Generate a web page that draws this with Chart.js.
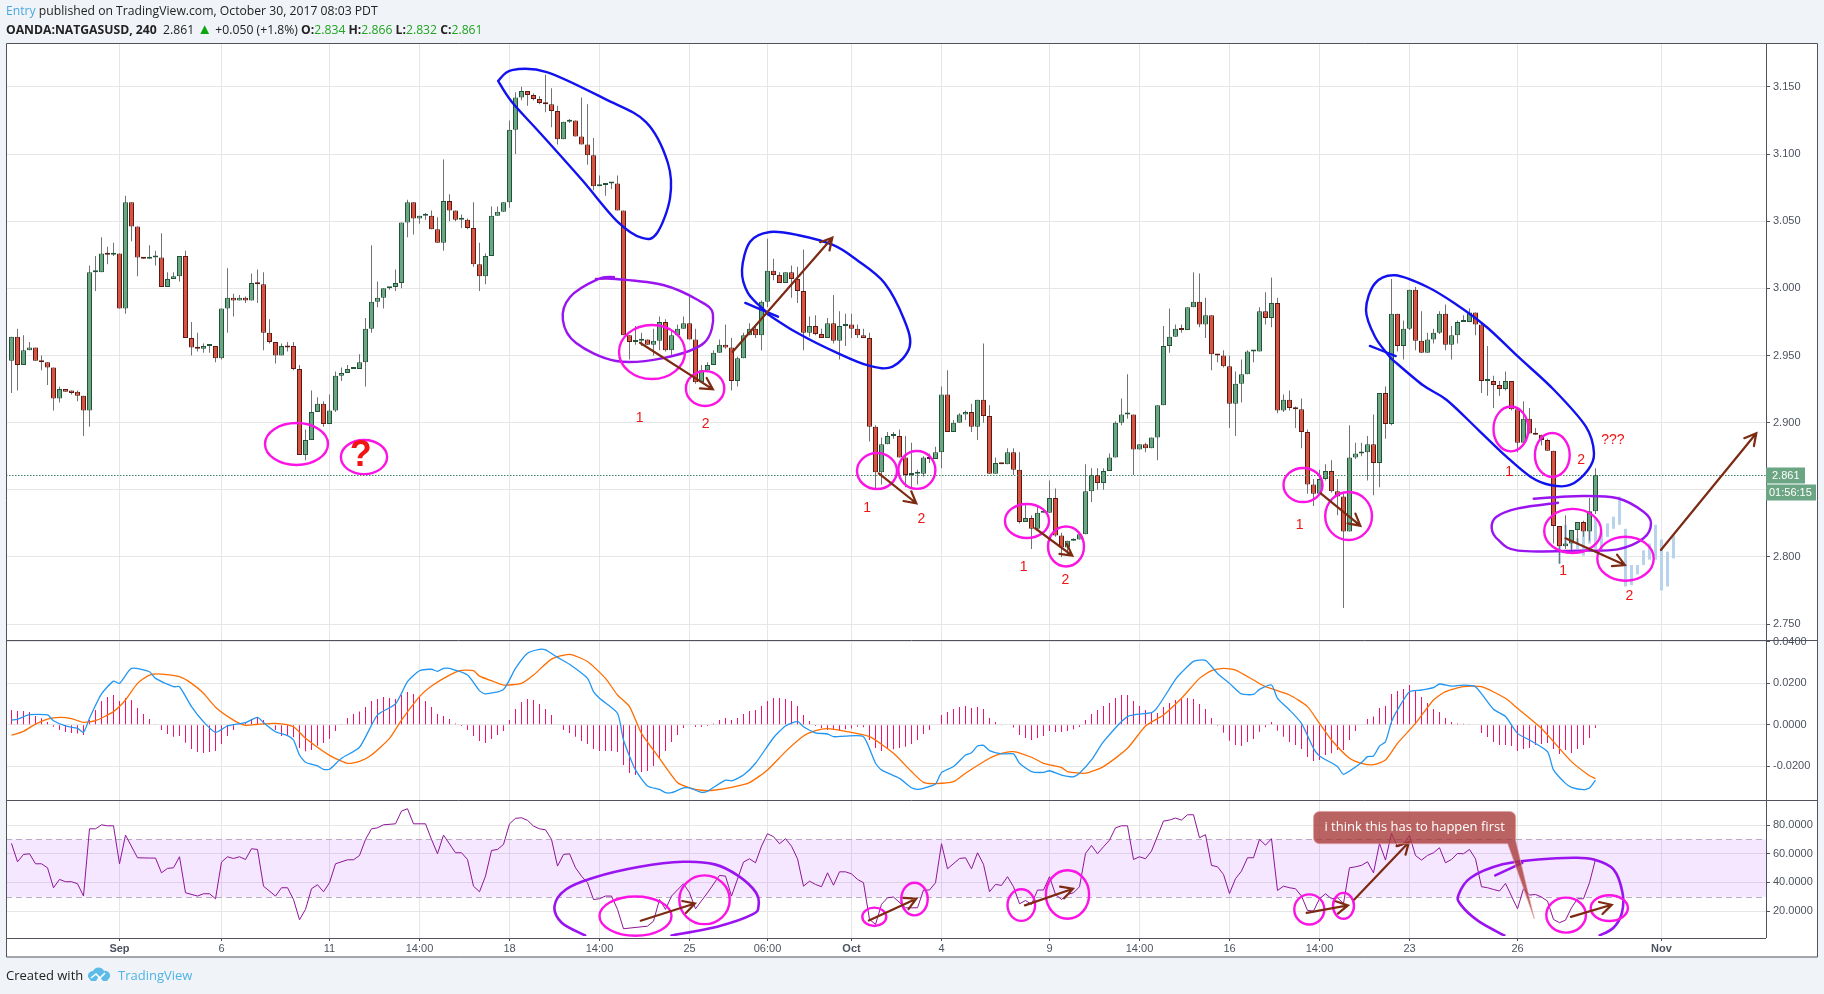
<!DOCTYPE html>
<html>
<head>
<meta charset="utf-8">
<title>OANDA:NATGASUSD, 240</title>
<script src="https://cdn.jsdelivr.net/npm/chart.js@4"></script>
<style>
html, body { margin: 0; padding: 0; background: #f0f3f7; overflow: hidden; }
#wrap { position: relative; width: 1824px; height: 994px; font-family: "Open Sans", sans-serif; color: #222; }
#myChart { position: absolute; left: 0; top: 0; }
.line { position: absolute; white-space: nowrap; }
#l1 { left: 6px; top: 3px; font-size: 12.2px; line-height: 16px; }
#l2 { left: 6px; top: 22px; font-size: 12.2px; line-height: 16px; }
#l1 .who { color: #4aa8de; }
#l2 b { color: #222; }
#l2 .g { color: #1fa51f; }
#l2 .up { color: #0fa50f; font-size: 15px; line-height: 0; }
#foot { left: 6px; top: 966px; font-size: 13px; line-height: 18px; }
#brand { left: 118px; top: 966px; font-size: 13px; line-height: 18px; color: #4fb4e6; }
#logo { position: absolute; left: 87px; top: 966px; }
</style>
</head>
<body>
<div id="wrap">
  <canvas id="myChart" width="1824" height="994"></canvas>
  <div class="line" id="l1"><span class="who">Entry</span> published on TradingView.com, October 30, 2017 08:03 PDT</div>
  <div class="line" id="l2"><b>OANDA:NATGASUSD, 240</b>&nbsp; 2.861 <span class="up">▲</span> +0.050 (+1.8%) <b>O:</b><span class="g">2.834</span> <b>H:</b><span class="g">2.866</span> <b>L:</b><span class="g">2.832</span> <b>C:</b><span class="g">2.861</span></div>
  <div class="line" id="foot">Created with</div>
  <svg id="logo" width="24" height="16" viewBox="0 0 24 16"><path d="M1 11 a5 5 0 0 1 5-6 a6 6 0 0 1 11 0 a5 5 0 0 1 6 6 l-3 4 h-4 l-4-5 -3 5 H4z" fill="#5cbbe8"/><path d="M4 12 l5-4 4 4 5-5" fill="none" stroke="#fff" stroke-width="1.6"/></svg>
  <div class="line" id="brand">TradingView</div>
</div>
<script>
// candles, 4h bars
const opens = [
2.946,2.964,2.943,2.954,2.956,2.946,2.945,2.941,2.918,2.925,2.924,2.923,2.920,2.909,3.012,3.012,3.026,3.025,3.026,2.985,
3.064,3.046,3.023,3.022,3.023,3.023,3.001,3.007,3.009,3.024,2.963,2.956,2.955,2.957,2.957,2.948,2.985,2.993,2.991,2.993,
2.991,3.004,3.003,2.967,2.960,2.950,2.957,2.957,2.940,2.876,2.887,2.908,2.914,2.899,2.909,2.935,2.937,2.940,2.940,2.945,
2.970,2.990,2.993,3.000,3.001,3.004,3.049,3.064,3.052,3.054,3.054,3.044,3.034,3.065,3.058,3.051,3.051,3.045,3.018,3.009,
3.024,3.054,3.057,3.064,3.118,3.142,3.147,3.144,3.141,3.138,3.137,3.132,3.111,3.124,3.125,3.113,3.107,3.099,3.076,3.077,
3.078,3.078,3.058,2.965,2.960,2.961,2.962,2.958,2.961,2.975,2.954,2.965,2.970,2.974,2.962,2.930,2.939,2.943,2.952,2.958,
2.956,2.931,2.948,2.965,2.970,2.965,2.990,3.013,3.010,3.004,3.012,3.007,2.998,2.967,2.972,2.966,2.963,2.974,2.961,2.972,
2.973,2.970,2.965,2.963,2.897,2.863,2.884,2.890,2.890,2.874,2.861,2.862,2.862,2.874,2.873,2.878,2.921,2.893,2.900,2.906,
2.908,2.897,2.917,2.905,2.862,2.870,2.869,2.878,2.865,2.826,2.829,2.821,2.833,2.833,2.844,2.816,2.807,2.812,2.813,2.817,
2.849,2.861,2.855,2.864,2.874,2.900,2.906,2.906,2.880,2.884,2.881,2.889,2.913,2.957,2.964,2.970,2.969,2.986,2.990,2.973,
2.980,2.951,2.950,2.942,2.914,2.929,2.936,2.953,2.953,2.983,2.978,2.989,2.909,2.917,2.911,2.910,2.893,2.854,2.847,2.858,
2.864,2.849,2.845,2.819,2.874,2.877,2.878,2.884,2.870,2.922,2.899,2.981,2.957,2.970,2.999,2.961,2.952,2.962,2.967,2.981,
2.958,2.965,2.975,2.975,2.982,2.973,2.931,2.931,2.928,2.925,2.931,2.910,2.885,2.903,2.892,2.891,2.887,2.879,2.823,2.808,
2.810,2.820,2.826,2.819,2.834];
const highs = [
2.964,2.970,2.965,2.960,2.956,2.950,2.945,2.941,2.927,2.925,2.924,2.924,2.920,3.017,3.024,3.038,3.031,3.034,3.026,3.069,
3.064,3.046,3.023,3.032,3.028,3.041,3.012,3.012,3.024,3.028,2.975,2.967,2.959,2.957,2.957,2.985,3.015,2.996,2.995,2.994,
3.011,3.014,3.012,2.977,2.960,2.959,2.960,2.960,2.943,2.895,2.924,2.919,2.916,2.921,2.938,2.941,2.943,2.940,2.951,2.978,
3.032,3.005,3.000,3.001,3.014,3.049,3.066,3.064,3.054,3.056,3.058,3.053,3.096,3.070,3.058,3.055,3.052,3.064,3.034,3.026,
3.061,3.061,3.064,3.125,3.146,3.150,3.147,3.145,3.143,3.159,3.149,3.136,3.124,3.126,3.125,3.142,3.137,3.112,3.084,3.078,
3.079,3.084,3.058,2.965,2.972,2.967,2.962,2.970,2.979,2.977,2.969,2.973,2.979,2.994,2.970,2.943,2.945,2.954,2.962,2.973,
2.963,2.949,2.967,2.974,2.973,2.991,3.037,3.022,3.012,3.012,3.017,3.016,3.029,2.979,2.980,2.970,2.978,2.995,2.983,2.981,
2.981,2.973,2.970,2.967,2.898,2.889,2.893,2.893,2.895,2.890,2.885,2.865,2.875,2.877,2.882,2.927,2.939,2.902,2.907,2.909,
2.914,2.917,2.959,2.913,2.874,2.870,2.881,2.881,2.878,2.839,2.831,2.838,2.834,2.857,2.851,2.818,2.812,2.814,2.818,2.869,
2.866,2.866,2.866,2.877,2.901,2.918,2.936,2.906,2.884,2.885,2.889,2.913,2.972,2.985,2.973,2.973,2.986,3.012,3.011,2.993,
2.980,2.951,2.954,2.950,2.938,2.947,2.954,2.954,2.986,2.997,3.008,2.993,2.921,2.924,2.912,2.918,2.895,2.858,2.865,2.869,
2.872,2.858,2.848,2.898,2.885,2.885,2.890,2.906,2.922,2.927,3.007,2.981,2.976,2.999,3.001,2.983,2.967,2.970,2.983,2.988,
2.972,2.976,2.980,2.985,2.982,2.975,2.957,2.935,2.931,2.938,2.931,2.911,2.916,2.911,2.896,2.891,2.888,2.879,2.823,2.831,
2.820,2.826,2.827,2.844,2.866];
const lows = [
2.922,2.924,2.943,2.954,2.946,2.939,2.928,2.909,2.915,2.923,2.921,2.916,2.890,2.897,2.998,3.012,3.018,3.024,2.985,2.981,
3.035,3.009,3.022,3.022,3.017,3.001,3.001,3.007,3.005,2.963,2.950,2.953,2.952,2.952,2.945,2.947,2.967,2.979,2.991,2.989,
2.991,2.989,2.954,2.959,2.944,2.950,2.953,2.939,2.876,2.872,2.887,2.908,2.897,2.899,2.908,2.931,2.937,2.940,2.940,2.927,
2.967,2.986,2.985,2.999,2.998,3.000,3.038,3.040,3.048,3.051,3.044,3.034,3.028,3.050,3.050,3.045,3.044,3.016,2.998,3.003,
3.024,3.054,3.057,3.060,3.100,3.140,3.136,3.140,3.137,3.131,3.120,3.107,3.111,3.123,3.113,3.107,3.092,3.073,3.076,3.069,
3.074,3.058,2.965,2.947,2.958,2.957,2.958,2.950,2.954,2.953,2.950,2.965,2.970,2.962,2.929,2.930,2.939,2.943,2.952,2.955,
2.924,2.927,2.948,2.965,2.963,2.954,2.986,3.006,3.004,3.004,2.993,2.989,2.954,2.964,2.965,2.963,2.963,2.959,2.947,2.957,
2.963,2.963,2.963,2.886,2.851,2.854,2.884,2.888,2.874,2.852,2.851,2.854,2.860,2.870,2.873,2.866,2.893,2.893,2.900,2.902,
2.893,2.887,2.900,2.862,2.862,2.869,2.869,2.861,2.825,2.826,2.806,2.821,2.833,2.833,2.815,2.800,2.802,2.812,2.813,2.817,
2.841,2.850,2.850,2.864,2.874,2.898,2.903,2.861,2.880,2.878,2.881,2.872,2.913,2.952,2.964,2.967,2.969,2.986,2.971,2.963,
2.939,2.945,2.941,2.896,2.890,2.915,2.936,2.945,2.953,2.973,2.971,2.907,2.908,2.909,2.896,2.881,2.847,2.838,2.846,2.857,
2.848,2.831,2.762,2.819,2.873,2.875,2.857,2.846,2.852,2.888,2.898,2.953,2.947,2.969,2.954,2.952,2.952,2.959,2.966,2.954,
2.947,2.959,2.975,2.975,2.965,2.922,2.920,2.911,2.920,2.924,2.909,2.878,2.885,2.892,2.891,2.883,2.879,2.810,2.795,2.806,
2.803,2.810,2.815,2.812,2.832];
const closes = [
2.964,2.943,2.954,2.956,2.946,2.945,2.941,2.918,2.925,2.923,2.922,2.920,2.909,3.012,3.012,3.026,3.025,3.026,2.985,3.064,
3.046,3.023,3.022,3.023,3.023,3.001,3.007,3.009,3.024,2.963,2.956,2.955,2.957,2.957,2.948,2.985,2.993,2.991,2.993,2.991,
3.004,3.003,2.967,2.960,2.950,2.957,2.956,2.940,2.876,2.887,2.908,2.914,2.899,2.909,2.935,2.937,2.940,2.940,2.945,2.970,
2.990,2.993,3.000,3.001,3.004,3.049,3.064,3.052,3.054,3.054,3.044,3.034,3.065,3.058,3.051,3.051,3.045,3.018,3.009,3.024,
3.054,3.057,3.064,3.118,3.142,3.147,3.144,3.141,3.138,3.137,3.132,3.111,3.124,3.125,3.113,3.107,3.099,3.076,3.077,3.078,
3.078,3.058,2.965,2.960,2.961,2.962,2.958,2.961,2.975,2.954,2.965,2.970,2.974,2.962,2.930,2.939,2.943,2.952,2.958,2.956,
2.931,2.948,2.965,2.970,2.965,2.990,3.013,3.010,3.004,3.012,3.007,2.998,2.967,2.972,2.966,2.963,2.974,2.961,2.972,2.973,
2.970,2.965,2.963,2.897,2.863,2.884,2.890,2.890,2.874,2.861,2.862,2.862,2.874,2.873,2.878,2.921,2.893,2.900,2.906,2.908,
2.897,2.917,2.905,2.862,2.870,2.869,2.878,2.865,2.826,2.829,2.821,2.833,2.833,2.844,2.816,2.807,2.812,2.813,2.817,2.849,
2.861,2.855,2.864,2.874,2.900,2.906,2.906,2.880,2.884,2.881,2.889,2.913,2.957,2.964,2.970,2.969,2.986,2.990,2.973,2.980,
2.951,2.950,2.942,2.914,2.929,2.936,2.953,2.953,2.983,2.978,2.989,2.909,2.917,2.911,2.910,2.893,2.854,2.847,2.858,2.864,
2.849,2.845,2.819,2.874,2.877,2.878,2.884,2.870,2.922,2.899,2.981,2.957,2.970,2.999,2.961,2.952,2.962,2.967,2.981,2.958,
2.965,2.975,2.976,2.982,2.973,2.931,2.931,2.928,2.925,2.931,2.910,2.885,2.903,2.892,2.891,2.887,2.879,2.823,2.808,2.810,
2.820,2.826,2.819,2.834,2.861];

// pale projected bars (bar pattern tool)
const ghostBars = [258,259,260,261,262,263,264,265,266,267,268,269,270,271,272,273,274,275,276,277];
const ghostHighs = [2.809,2.824,2.820,2.814,2.819,2.830,2.829,2.818,2.825,2.830,2.845,2.821,2.794,2.794,2.805,2.810,2.824,2.813,2.804,2.816];
const ghostLows = [2.795,2.809,2.806,2.806,2.801,2.810,2.806,2.805,2.815,2.821,2.824,2.778,2.779,2.787,2.794,2.798,2.798,2.775,2.778,2.799];

// MACD histogram, one per bar
const macdHist = [
.0071,.0066,.0066,.0061,.0042,.0031,.0013,-.0010,-.0026,-.0035,-.0040,-.0043,-.0050,.0022,.0071,.0114,.0133,.0143,.0114,.0128,
.0119,.0080,.0051,.0027,.0003,-.0026,-.0045,-.0058,-.0055,-.0087,-.0117,-.0132,-.0137,-.0132,-.0127,-.0093,-.0055,-.0026,.0006,.0013,
.0029,.0032,.0022,.0003,-.0026,-.0055,-.0055,-.0061,-.0112,-.0128,-.0122,-.0101,-.0088,-.0069,-.0031,.0003,.0032,.0051,.0063,.0085,
.0114,.0124,.0133,.0128,.0124,.0143,.0157,.0148,.0133,.0114,.0085,.0051,.0042,.0027,.0006,-.0006,-.0026,-.0055,-.0079,-.0088,
-.0069,-.0050,-.0031,.0022,.0075,.0109,.0124,.0119,.0100,.0075,.0047,0,-.0026,-.0040,-.0058,-.0079,-.0093,-.0117,-.0127,-.0127,
-.0127,-.0132,-.0194,-.0233,-.0243,-.0228,-.0223,-.0199,-.0162,-.0127,-.0084,-.0050,-.0016,0,-.0011,-.0011,-.0006,.0006,.0022,.0032,
.0022,.0032,.0051,.0066,.0071,.0090,.0114,.0128,.0128,.0124,.0114,.0090,.0047,.0018,-.0006,-.0016,-.0026,-.0026,-.0031,-.0022,
-.0019,-.0010,-.0013,-.0074,-.0112,-.0127,-.0112,-.0119,-.0112,-.0106,-.0093,-.0074,-.0045,-.0026,0,.0047,.0061,.0075,.0085,.0090,
.0080,.0085,.0075,.0032,.0013,-.0002,-.0003,-.0014,-.0050,-.0064,-.0074,-.0064,-.0055,-.0031,-.0035,-.0035,-.0031,-.0022,-.0011,.0022,
.0051,.0071,.0090,.0104,.0128,.0143,.0143,.0114,.0090,.0071,.0061,.0056,.0085,.0104,.0119,.0124,.0128,.0124,.0100,.0075,
.0032,-.0005,-.0039,-.0077,-.0098,-.0103,-.0084,-.0069,-.0034,-.0013,.0013,-.0029,-.0058,-.0084,-.0098,-.0117,-.0156,-.0175,-.0170,-.0146,
-.0138,-.0122,-.0122,-.0074,-.0031,0,.0027,.0039,.0080,.0090,.0148,.0162,.0172,.0191,.0167,.0133,.0104,.0075,.0061,.0032,
.0013,.0006,.0005,.0003,0,-.0040,-.0059,-.0084,-.0098,-.0098,-.0103,-.0127,-.0117,-.0112,-.0098,-.0093,-.0088,-.0117,-.0141,-.0122,
-.0137,-.0117,-.0098,-.0064,-.0016];

// MACD line, at the bars where it bends
const macdBars = [0,1,3,6,7,9,11,12,13,15,17,18,20,23,24,27,28,30,32,34,36,39,41,42,44,46,47,48,49,51,52,53,55,58,61,64,66,68,70,71,72,73,76,78,79,82,84,86,88,89,91,93,96,97,98,101,102,104,106,108,109,110,112,113,115,116,119,120,122,124,127,129,131,132,134,136,137,139,142,144,145,148,150,151,152,154,155,157,159,160,161,162,163,165,167,168,170,172,173,175,177,178,180,182,186,190,191,194,195,197,199,201,203,205,207,208,210,211,213,215,217,218,221,222,225,226,227,228,229,230,231,233,235,237,238,240,242,244,247,249,251,253,256,257,259,260,262,263,264];
const macdVals = [.0022,.0026,.0048,.0047,.0019,-.0006,-.0018,-.0037,.0031,.0148,.0210,.0199,.0271,.0255,.0223,.0183,.0183,.0087,.0014,-.0037,-.0006,.0010,.0035,.0010,-.0034,-.0053,-.0074,-.0146,-.0181,-.0199,-.0215,-.0215,-.0162,-.0109,.0047,.0100,.0207,.0260,.0267,.0257,.0271,.0271,.0239,.0164,.0148,.0170,.0271,.0344,.0363,.0360,.0324,.0291,.0223,.0159,.0127,.0055,-.0074,-.0218,-.0295,-.0312,-.0328,-.0328,-.0305,-.0305,-.0326,-.0321,-.0267,-.0271,-.0243,-.0186,-.0063,-.0006,.0016,-.0010,-.0039,-.0045,-.0058,-.0055,-.0058,-.0186,-.0218,-.0259,-.0304,-.0312,-.0307,-.0286,-.0231,-.0202,-.0146,-.0135,-.0103,-.0100,-.0125,-.0141,-.0141,-.0186,-.0226,-.0230,-.0222,-.0243,-.0251,-.0234,-.0170,-.0082,.0039,.0058,.0084,.0218,.0251,.0305,.0310,.0247,.0199,.0148,.0146,.0170,.0191,.0127,.0071,.0006,-.0114,-.0151,-.0202,-.0239,-.0183,-.0154,-.0151,-.0103,-.0082,.0014,.0071,.0159,.0167,.0178,.0196,.0186,.0191,.0183,.0074,.0039,-.0042,-.0074,-.0130,-.0218,-.0283,-.0302,-.0313,-.0305,-.0267];

// signal line
const signalBars = [0,2,4,6,8,10,12,14,17,19,21,23,25,28,30,32,34,37,39,41,44,47,49,53,56,58,60,63,65,68,70,73,75,77,78,80,82,85,87,90,93,96,99,101,103,105,108,111,113,115,117,120,123,126,129,132,134,136,139,143,147,150,152,154,157,159,163,165,167,170,172,175,176,179,182,186,189,192,195,198,200,202,204,207,209,213,216,218,220,223,225,227,229,231,234,237,239,242,245,249,251,255,257,260,263,264];
const signalVals = [-.0051,-.0032,.0003,.0027,.0035,.0029,.0011,.0019,.0063,.0119,.0199,.0239,.0244,.0231,.0199,.0151,.0084,.0022,-.0003,.0002,.0006,-.0010,-.0066,-.0148,-.0186,-.0177,-.0146,-.0066,.0022,.0135,.0186,.0239,.0262,.0260,.0234,.0212,.0191,.0199,.0239,.0316,.0339,.0304,.0223,.0143,.0087,-.0042,-.0162,-.0279,-.0304,-.0316,-.0316,-.0302,-.0279,-.0218,-.0130,-.0055,-.0029,-.0019,-.0032,-.0058,-.0138,-.0226,-.0278,-.0284,-.0275,-.0234,-.0162,-.0138,-.0130,-.0157,-.0186,-.0207,-.0226,-.0234,-.0202,-.0114,-.0006,.0047,.0127,.0223,.0260,.0271,.0263,.0215,.0183,.0143,.0087,.0006,-.0074,-.0162,-.0186,-.0193,-.0170,-.0090,.0006,.0119,.0159,.0183,.0183,.0127,.0079,-.0018,-.0082,-.0178,-.0246,-.0260];

// RSI
const rsiBars = [0,1,2,3,4,5,6,7,8,9,10,11,12,13,14,15,16,17,18,19,21,23,24,25,26,27,28,29,31,32,33,34,35,36,37,38,39,40,41,42,44,45,46,47,48,49,50,51,52,53,54,56,57,58,59,60,61,62,64,65,66,67,69,70,71,72,74,75,76,77,78,79,80,81,82,83,84,85,86,87,88,89,90,91,92,93,94,95,96,97,98,99,100,101,102,106,107,108,109,110,112,113,114,116,118,119,120,122,123,124,125,126,127,128,129,130,131,132,133,134,135,136,137,138,139,140,141,142,143,144,145,146,147,149,151,152,153,154,155,156,158,159,160,161,162,163,164,165,166,167,168,169,170,171,172,173,174,175,176,177,178,179,180,181,182,183,184,185,186,187,188,189,190,192,193,194,195,196,197,198,199,200,201,202,203,204,205,206,207,208,209,210,211,212,213,214,215,216,217,218,219,220,221,222,223,224,225,226,227,228,229,230,231,232,233,234,235,236,237,238,239,240,241,242,243,244,245,246,247,248,249,250,251,252,253,254,255,256,257,258,259,260,261,262,263,264];
const rsiVals = [67.2,54.4,59.5,60,53,53,50.2,36.3,42.1,40.5,40.5,39.1,30.5,77.4,77.4,80.2,79.5,79.5,53,73,57.2,57,57,46.7,49.8,50.2,57.9,32.8,30.5,32.1,32.1,28.6,54.2,57.9,56.7,57.9,56,63.5,63,37.4,30.5,36.3,36.3,28.1,14,21.2,35.6,38.4,33.5,39.8,53,55.8,55.8,58.8,70,77.4,78.1,80.2,80.9,89.8,91.4,80.9,80.9,70,60,73,60.7,60.7,56,37.4,33.5,44.4,62.3,63,66.5,80.9,84.7,85.1,83.3,79.3,77.4,76.7,70,51.4,59.5,60,50.2,44.4,39.8,28.1,28.6,30.5,30.5,21.2,7.7,9.5,13,28.1,21.2,30.5,39.1,32.8,21.6,32.8,44.9,44.4,30.5,54.2,56.5,53.7,65.3,74,71.9,67,70.5,65.3,56.5,37.4,40.9,38.6,37,46.7,38.1,47.4,47.4,46,42.1,39.8,14.2,10.7,24.7,29.3,29.8,22.3,22.3,34.7,34.7,39.8,67,49.5,56.7,57.2,49.5,60.7,52.6,33.5,38.6,37.9,44,37,25.1,27.4,24.7,34.7,34.7,44,31.6,28.1,31.6,32.8,37,60.2,65.8,60,64.9,69.5,78.1,79.5,79.5,56,57.9,56.5,61.9,82.8,83.5,84.9,83.5,87.2,87.2,71.2,73.3,51.9,50.9,45.6,32.3,42.6,47.9,57.2,57.2,70,66,70.5,34.4,37.4,36.3,35.6,30.5,20.5,20,28.6,32.1,28.6,29.3,25.3,50.2,50.9,51.9,54.4,46.7,67.2,55.6,74.2,64.9,66.5,72.8,58.8,55.6,58.8,60.7,64.2,53.7,56,60.2,60,63,56.5,37,36.3,35.1,34,39.3,30.5,21.6,35.6,31.2,31.6,29.8,27,14.2,11.9,13.7,22.3,28.6,28.6,39.8,56];
const rsiBand = [30, 70];

// axes
const tickBars = [18,35,53,68,83,98,113,126,140,155,173,188,203,218,233,251,275];
const tickLabels = ['Sep','6','11','14:00','18','14:00','25','06:00','Oct','4','9','14:00','16','14:00','23','26','Nov'];
const monthLabels = ['Sep','Oct','Nov'];
const priceTicks = [2.75,2.8,2.85,2.9,2.95,3,3.05,3.1,3.15];
const macdTicks = [-.02,0,.02,.04];
const rsiTicks = [20,40,60,80];
const lastPrice = 2.861;
const countdown = '01:56:15';

// hand drawn marks, as [bar, value] on the pane they were drawn on
const blueLoops = [
  [[81.1,3.1544],[83.4,3.1625],[89.2,3.161],[98.9,3.141],[105.75,3.1238],[109.4,3.0933],[109.75,3.0672],[107.6,3.0412],[105.1,3.0375],[100.9,3.0501],[95.1,3.0806],[88.25,3.1149],[83.4,3.1387],[81.1,3.1544]],
  [[125.75,2.9816],[131,2.9667],[137.6,2.9519],[142.9,2.9424],[146.85,2.9417],[149.7,2.9566],[148.8,2.9764],[145.5,3.004],[140.9,3.0211],[136.9,3.0323],[131,3.0397],[126.4,3.0419],[123.1,3.0347],[121.75,3.0136],[122.75,2.9965],[125.75,2.9826]],
  [[229.9,2.9479],[235.2,2.928],[239.2,2.9169],[244.5,2.8945],[249.15,2.8747],[253.15,2.8598],[256.45,2.8536],[259.75,2.8536],[262.75,2.8648],[263.75,2.8772],[262.4,2.897],[257.1,2.9243],[251.1,2.9491],[245.8,2.9714],[240.5,2.9889],[235.9,3.0012],[230.6,3.0097],[227.25,3.0037],[225.75,2.9839],[227.25,2.964],[229.9,2.9479]],
  [[122.3,2.9891],[127.75,2.9789]],
  [[226.4,2.9571],[230.7,2.9496]]
];
const purpleLoops = [
  [[100.4,3.0084],[97.75,3.0069],[93.1,2.9936],[91.9,2.9764],[94.1,2.9593],[100.75,2.9459],[108.6,2.9481],[115.4,2.9593],[116.9,2.9809],[114.4,2.9913],[108.6,3.0025],[100.75,3.0069],[97.4,3.0069]],
  [[253.7,2.8434],[261.75,2.8454],[267.7,2.8437],[272,2.8337],[273.25,2.8251],[272,2.8139],[267.7,2.8057],[261.1,2.8047],[251.1,2.8047],[247.8,2.8127],[246.7,2.8214],[247.5,2.83],[251.1,2.8362],[257.75,2.8404]]
];
const rsiPurpleLoops = [
  [[95.6,3],[91.7,11.9],[90.5,23.5],[92.4,35.1],[97,43.3],[104.7,50.9],[111.9,54.4],[117.2,52.6],[121.2,44.4],[124.1,32.8],[124.5,23.5],[123.5,17.7],[117.9,9.5],[110,3]],
  [[248.8,3],[244.5,13],[241.5,24.7],[241.2,31.6],[243.2,43.3],[248.5,52.6],[254.4,56],[260.4,57.2],[263.7,56],[267,49.1],[268.5,32.8],[268.4,18.8],[267,8.4],[264.7,3]],
  [[247.3,44.9],[251.8,53.7]]
];
// centre bar, centre value, half width in bars, half height in value
const pinkRings = [
  [47.5,2.8841,5.25,.0156],[58.75,2.8744,3.85,.0127],[106.75,2.9526,5.5,.0201],[115.6,2.9254,3.2,.013],
  [144.25,2.864,3.33,.0134],[150.9,2.8648,3.08,.0141],[169.25,2.8268,3.67,.0127],[175.75,2.8078,3,.0149],
  [215.25,2.8536,3.25,.0127],[222.85,2.8305,3.9,.0179],[249.9,2.8953,2.9,.0167],[256.8,2.8759,2.9,.0164],
  [260.2,2.8194,4.75,.0164],[269,2.7987,4.7,.0164]
];
const rsiPinkRings = [
  [104,16.5,6,13.7],[115.5,27.9,4.2,17],[143.8,16,2,6.4],[150.5,28.4,2.2,11.4],[168.3,24.2,2.3,11],[176,31.6,3.6,16.9],
  [216.3,21.2,2.5,10.5],[222,23.7,1.75,9],[259.1,17.2,3.3,12.2],[266.3,22.1,3.1,9]
];
const priceArrows = [
  [104.75,2.9595,116.9,2.9248],[120.2,2.9528,136.8,3.0377],[144.55,2.8623,150.8,2.84],[170.6,2.8214,176.8,2.801],
  [218.2,2.8474,224.8,2.8233],[259,2.8139,268.9,2.794],[274.9,2.8052,290.8,2.8921]
];
const rsiArrows = [
  [104.87,13.3,113.9,25.3],[142.9,13.5,150.8,28.6],[168.9,24,176.9,35.6],[215.85,18.8,222.75,24],
  [223.8,28.1,232.9,68.1],[259.9,16,266.7,24.4]
];
const noteTexts = ['1','2','1','2','1','2','1','1','2','???','1','2'];
const noteBars = [104.7,115.7,142.6,151.65,168.7,175.65,214.7,249.6,261.6,266.9,258.6,269.65];
const noteVals = [2.9035,2.899,2.8365,2.8283,2.7926,2.7829,2.8238,2.8631,2.8722,2.8871,2.7896,2.7709];
const questionMark = [58.2, 2.8752];
const calloutText = 'i think this has to happen first';
const calloutBox = [217, 89.5, 250.7, 67];   // left bar, top rsi, right bar, bottom rsi
const calloutTip = [253.8, 14.7];

const UP_FILL = '#6ba583', UP_LINE = '#225437';
const DOWN_FILL = '#d75442', DOWN_LINE = '#5b1a13';
const TEXT = '#4c525e';
const FRAME = '#50535e';
const GRID = '#e6e6e6';
const FONT = '"Liberation Sans", Arial, sans-serif';

const isUp = i => closes[i] >= opens[i];
const allBars = opens.map((_, i) => i);

function catmull(ctx, pts) {
    ctx.moveTo(pts[0][0], pts[0][1]);
    for (let i = 0; i < pts.length - 1; i++) {
        const p0 = pts[Math.max(i - 1, 0)], p1 = pts[i], p2 = pts[i + 1], p3 = pts[Math.min(i + 2, pts.length - 1)];
        ctx.bezierCurveTo(p1[0] + (p2[0] - p0[0]) / 6, p1[1] + (p2[1] - p0[1]) / 6,
                          p2[0] - (p3[0] - p1[0]) / 6, p2[1] - (p3[1] - p1[1]) / 6, p2[0], p2[1]);
    }
}

const inkPlugin = {
    id: 'ink',
    beforeDraw(chart) {
        const c = chart.ctx, a = chart.chartArea;
        c.save();
        c.fillStyle = '#fff';
        c.fillRect(a.left, a.top, chart.width - 7 - a.left, chart.height - 37 - a.top);
        c.restore();
    },
    beforeDatasetsDraw(chart) {
        const c = chart.ctx, a = chart.chartArea, r = chart.scales.yRsi;
        const y30 = r.getPixelForValue(rsiBand[0]), y70 = r.getPixelForValue(rsiBand[1]);
        c.save();
        c.fillStyle = 'rgba(153, 21, 255, 0.1)';
        c.fillRect(a.left, y70, a.right - a.left, y30 - y70);
        c.strokeStyle = '#b9acc2';
        c.setLineDash([6, 4]);
        c.beginPath();
        [y30, y70].forEach(y => { c.moveTo(a.left, Math.round(y) + .5); c.lineTo(a.right, Math.round(y) + .5); });
        c.stroke();
        c.restore();
    },
    afterDatasetsDraw(chart) {
        const c = chart.ctx, a = chart.chartArea, s = chart.scales;
        const x = s.x, p = s.yPrice, r = s.yRsi;
        const W = chart.width - 7, B = chart.height - 37;

        // price line and its labels
        const py = Math.round(p.getPixelForValue(lastPrice)) + .5;
        c.save();
        c.strokeStyle = '#3f7f5f';
        c.setLineDash([1.5, 1.5]);
        c.beginPath(); c.moveTo(a.left, py); c.lineTo(a.right, py); c.stroke();
        c.restore();

        const line = (col, lw, scale, pts, clipTop, clipBottom) => {
            c.save();
            c.beginPath(); c.rect(a.left, clipTop, a.right - a.left, clipBottom - clipTop); c.clip();
            c.strokeStyle = col; c.lineWidth = lw; c.lineJoin = 'round'; c.lineCap = 'round';
            c.beginPath();
            catmull(c, pts.map(q => [x.getPixelForValue(q[0]), scale.getPixelForValue(q[1])]));
            c.stroke();
            c.restore();
        };
        const ring = (col, lw, scale, q) => {
            const cx = x.getPixelForValue(q[0]), cy = scale.getPixelForValue(q[1]);
            const rx = x.getPixelForValue(q[0] + q[2]) - cx, ry = cy - scale.getPixelForValue(q[1] + q[3]);
            c.save();
            c.beginPath(); c.rect(a.left, scale.top, a.right - a.left, scale.bottom - scale.top); c.clip();
            c.strokeStyle = col; c.lineWidth = lw;
            c.beginPath(); c.ellipse(cx, cy, rx, ry, 0, 0, Math.PI * 2); c.stroke();
            c.restore();
        };
        const arrow = (scale, q) => {
            const x1 = x.getPixelForValue(q[0]), y1 = scale.getPixelForValue(q[1]);
            const x2 = x.getPixelForValue(q[2]), y2 = scale.getPixelForValue(q[3]);
            const ang = Math.atan2(y2 - y1, x2 - x1), len = 13;
            c.save();
            c.strokeStyle = '#7c2a12'; c.lineWidth = 2.2; c.lineCap = 'round';
            c.beginPath();
            c.moveTo(x1, y1); c.lineTo(x2, y2);
            c.moveTo(x2 - len * Math.cos(ang - .5), y2 - len * Math.sin(ang - .5)); c.lineTo(x2, y2);
            c.lineTo(x2 - len * Math.cos(ang + .5), y2 - len * Math.sin(ang + .5));
            c.stroke();
            c.restore();
        };

        blueLoops.forEach(l => line('#1212f0', 2.4, p, l, p.top, p.bottom));
        purpleLoops.forEach(l => line('#9a14f0', 2.4, p, l, p.top, p.bottom));
        rsiPurpleLoops.forEach(l => line('#9a14f0', 2.6, r, l, r.top, r.bottom - 2));
        pinkRings.forEach(q => ring('#fb14e4', 2.4, p, q));
        rsiPinkRings.forEach(q => ring('#fb14e4', 2.4, r, q));
        priceArrows.forEach(q => arrow(p, q));
        rsiArrows.forEach(q => arrow(r, q));

        c.save();
        c.fillStyle = '#f01414';
        c.font = '14px ' + FONT;
        c.textAlign = 'center'; c.textBaseline = 'middle';
        noteTexts.forEach((t, i) => c.fillText(t, x.getPixelForValue(noteBars[i]), p.getPixelForValue(noteVals[i])));
        c.font = 'bold 36px ' + FONT;
        c.fillText('?', x.getPixelForValue(questionMark[0]), p.getPixelForValue(questionMark[1]));
        c.restore();

        // callout on the RSI pane
        const bx = x.getPixelForValue(calloutBox[0]), bx2 = x.getPixelForValue(calloutBox[2]);
        const by = r.getPixelForValue(calloutBox[1]), by2 = r.getPixelForValue(calloutBox[3]);
        const tx = x.getPixelForValue(calloutTip[0]), ty = r.getPixelForValue(calloutTip[1]);
        c.save();
        c.fillStyle = 'rgba(166, 55, 55, 0.78)';
        c.strokeStyle = 'rgba(226, 160, 160, 0.7)';
        c.beginPath();
        c.moveTo(bx + 6, by); c.lineTo(bx2 - 6, by); c.arcTo(bx2, by, bx2, by + 6, 6);
        c.lineTo(bx2, by2 - 3); c.lineTo(tx, ty); c.lineTo(bx2 - 8, by2); c.lineTo(bx + 6, by2);
        c.arcTo(bx, by2, bx, by2 - 6, 6); c.lineTo(bx, by + 6); c.arcTo(bx, by, bx + 6, by, 6);
        c.closePath(); c.fill(); c.stroke();
        c.fillStyle = '#fff';
        c.font = '13px "Open Sans", sans-serif';
        c.textAlign = 'center'; c.textBaseline = 'middle';
        c.fillText(calloutText, (bx + bx2) / 2, (by + by2) / 2);
        c.restore();

        // frame
        c.save();
        c.strokeStyle = FRAME; c.lineWidth = 1;
        c.beginPath();
        c.rect(a.left + .5, a.top - .5, W - a.left, B - a.top + .5);
        [p.bottom, s.yMacd.bottom].forEach(y => { c.moveTo(a.left, y + .5); c.lineTo(W, y + .5); });
        c.moveTo(a.left, a.bottom + .5); c.lineTo(a.right, a.bottom + .5);
        c.moveTo(a.right + .5, a.top); c.lineTo(a.right + .5, a.bottom);
        c.stroke();

        // last price and countdown
        c.fillStyle = UP_FILL;
        c.fillRect(a.right, py - 8, 39, 16);
        c.fillRect(a.right, py + 9, 50, 16);
        c.fillStyle = '#fff';
        c.font = '11px ' + FONT;
        c.textAlign = 'left'; c.textBaseline = 'middle';
        c.fillText(lastPrice.toFixed(3), a.right + 6, py + .5);
        c.fillText(countdown, a.right + 3, py + 17.5);
        c.restore();
    }
};

const yAxis = (weight, stackWeight, min, max, ticks, digits) => ({
    type: 'linear',
    position: 'right',
    stack: 'panes',
    stackWeight: stackWeight,
    weight: weight,
    min: min,
    max: max,
    afterBuildTicks: s => { s.ticks = ticks.map(v => ({ value: v })); },
    afterFit: s => { s.width = 51; },
    grid: { color: GRID, tickColor: FRAME, tickLength: 4 },
    border: { display: false },
    ticks: { color: TEXT, padding: 3, font: { family: FONT, size: 11 }, callback: v => v.toFixed(digits) }
});

const ctx = document.getElementById('myChart').getContext('2d');

const myChart = new Chart(ctx, {
    type: 'bar',
    data: {
        datasets: [
            {
                label: 'Body', yAxisID: 'yPrice', order: 1, barThickness: 5, grouped: false, minBarLength: 2,
                data: allBars.map(i => ({ x: i, y: [opens[i], closes[i]] })),
                backgroundColor: allBars.map(i => isUp(i) ? UP_FILL : DOWN_FILL),
                borderColor: allBars.map(i => isUp(i) ? UP_LINE : DOWN_LINE),
                borderWidth: 1, borderSkipped: false, inflateAmount: 0
            },
            {
                label: 'Wick', yAxisID: 'yPrice', order: 2, barThickness: 1, grouped: false,
                data: allBars.map(i => ({ x: i, y: [lows[i], highs[i]] })),
                backgroundColor: '#737375', inflateAmount: 0
            },
            {
                label: 'Projection', yAxisID: 'yPrice', order: 3, barThickness: 3, grouped: false,
                data: ghostBars.map((b, k) => ({ x: b, y: [ghostLows[k], ghostHighs[k]] })),
                backgroundColor: '#b8d4ec', inflateAmount: 0
            },
            {
                label: 'Histogram', yAxisID: 'yMacd', order: 6, barThickness: 1, grouped: false,
                data: macdHist.map((v, i) => ({ x: i, y: v })),
                backgroundColor: '#f5106e', inflateAmount: 0
            },
            {
                type: 'line', label: 'MACD', yAxisID: 'yMacd', order: 4,
                data: macdBars.map((b, k) => ({ x: b, y: macdVals[k] })),
                borderColor: '#2196f3', borderWidth: 1.3, pointRadius: 0, tension: 0.2
            },
            {
                type: 'line', label: 'Signal', yAxisID: 'yMacd', order: 5,
                data: signalBars.map((b, k) => ({ x: b, y: signalVals[k] })),
                borderColor: '#ff6d00', borderWidth: 1.3, pointRadius: 0, tension: 0.2
            },
            {
                type: 'line', label: 'RSI', yAxisID: 'yRsi', order: 7,
                data: rsiBars.map((b, k) => ({ x: b, y: rsiVals[k] })),
                borderColor: '#8e1599', borderWidth: 1, pointRadius: 0, tension: 0
            }
        ]
    },
    options: {
        responsive: false,
        animation: false,
        layout: { padding: { left: 6, top: 44, right: 7, bottom: 37 } },
        plugins: { legend: { display: false }, tooltip: { enabled: false } },
        scales: {
            x: {
                type: 'linear',
                offset: false,
                min: -0.9167,
                max: 292.4167,
                afterBuildTicks: s => { s.ticks = tickBars.map(v => ({ value: v })); },
                afterFit: s => { s.height = 19; },
                grid: { offset: false, color: GRID, tickColor: FRAME, tickLength: 3 },
                border: { display: false },
                ticks: {
                    autoSkip: false, maxRotation: 0, padding: 1, color: TEXT,
                    font: c => ({
                        family: FONT, size: 11,
                        weight: c.tick && monthLabels.includes(tickLabels[tickBars.indexOf(c.tick.value)]) ? 'bold' : 'normal'
                    }),
                    callback: v => tickLabels[tickBars.indexOf(v)]
                }
            },
            yPrice: yAxis(0, 596, 2.7382, 3.1819, priceTicks, 3),
            yMacd: yAxis(1, 160, -.0363, .0408, macdTicks, 4),
            yRsi: yAxis(2, 138, 1.24, 97.5, rsiTicks, 4)
        }
    },
    plugins: [inkPlugin]
});
</script>
</body>
</html>
